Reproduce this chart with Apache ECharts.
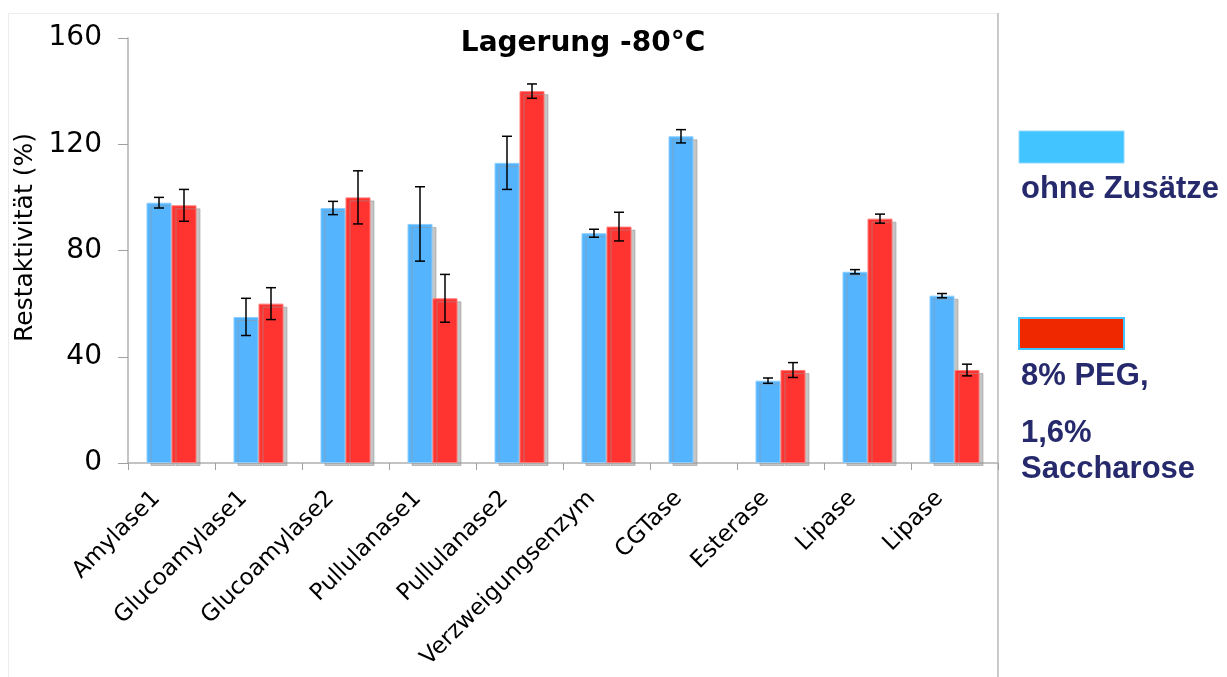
<!DOCTYPE html>
<html>
<head>
<meta charset="utf-8">
<script src="https://cdn.jsdelivr.net/npm/echarts@6/dist/echarts.min.js"></script>
<style>html,body{margin:0;padding:0;background:#fff;}#c{width:1227px;height:677px;}</style>
</head>
<body>
<div id="c"></div>
<script>
const categories = ['Amylase1','Glucoamylase1','Glucoamylase2','Pullulanase1','Pullulanase2','Verzweigungsenzym','CGTase','Esterase','Lipase','Lipase'];
const ohneZusaetze = [98, 55, 96, 90, 113, 86.5, 123, 31, 72, 63];
const ohneErr = [2, 7, 2.5, 14, 10, 1.5, 2.5, 1, 0.8, 0.8];
const pegSaccharose = [97, 60, 100, 62, 140, 89, null, 35, 92, 35];
const pegErr = [6, 6, 10, 9, 2.7, 5.4, null, 2.8, 1.7, 2.2];
const yTicks = [0, 40, 80, 120, 160];
const titleText = 'Lagerung -80°C';
const yName = 'Restaktivität (%)';
const legendNames = ['ohne Zusätze', '8% PEG,', '1,6%', 'Saccharose'];

const BAR_W = 25;

function errData(vals, errs) {
  const out = [];
  vals.forEach((v, i) => {
    if (v != null && errs[i] != null) out.push([i, v - errs[i], v + errs[i]]);
  });
  return out;
}

function errRender(offset) {
  return function (params, api) {
    const x = api.value(0);
    const lo = api.coord([x, api.value(1)]);
    const hi = api.coord([x, api.value(2)]);
    const cx = lo[0] + offset;
    const cap = 5;
    const st = { stroke: '#000', lineWidth: 1.5 };
    return {
      type: 'group',
      children: [
        { type: 'line', shape: { x1: cx, y1: hi[1], x2: cx, y2: lo[1] }, style: st },
        { type: 'line', shape: { x1: cx - cap, y1: hi[1], x2: cx + cap, y2: hi[1] }, style: st },
        { type: 'line', shape: { x1: cx - cap, y1: lo[1], x2: cx + cap, y2: lo[1] }, style: st }
      ]
    };
  };
}

const chart = echarts.init(document.getElementById('c'), null, { renderer: 'canvas' });
const barShadow = { shadowColor: 'rgba(150,150,150,0.55)', shadowOffsetX: 4, shadowOffsetY: 3, shadowBlur: 0 };
const legendFont = 'bold 31px "Liberation Sans"';

chart.setOption({
  animation: false,
  backgroundColor: '#fff',
  title: {
    text: titleText,
    left: 578, top: 25, textAlign: 'center',
    textStyle: { fontFamily: 'DejaVu Sans', fontWeight: 'bold', fontSize: 28, color: '#000' }
  },
  grid: { left: 128, right: 229, top: 38, bottom: 214, containLabel: false },
  xAxis: {
    type: 'category',
    data: categories,
    axisLine: { lineStyle: { color: '#b0b0b0', width: 1.5 } },
    axisTick: { show: true, alignWithLabel: false, length: 7, lineStyle: { color: '#a0a0a0' } },
    axisLabel: { rotate: 45, interval: 0, margin: 17, padding: [0, 21, 0, 0], fontFamily: 'DejaVu Sans', fontSize: 23, color: '#000' }
  },
  yAxis: {
    type: 'value',
    min: 0, max: 160, interval: 40,
    name: yName,
    nameLocation: 'middle',
    nameGap: 80,
    nameRotate: 90,
    nameTextStyle: { fontFamily: 'DejaVu Sans', fontSize: 25, color: '#000', padding: [0, 0, 0, 26] },
    axisLine: { show: true, lineStyle: { color: '#b0b0b0', width: 1.5 } },
    axisTick: { show: true, inside: false, length: 10, lineStyle: { color: '#a0a0a0' } },
    splitLine: { show: false },
    axisLabel: {
      margin: 26, fontFamily: 'DejaVu Sans', fontSize: 28, color: '#000',
      formatter: v => (yTicks.indexOf(v) >= 0 ? String(v) : '')
    }
  },
  series: [
    {
      name: legendNames[0], type: 'bar', data: ohneZusaetze, barWidth: BAR_W, barGap: '0%',
      itemStyle: Object.assign({ color: '#55b4fe', borderColor: '#8ccdff', borderWidth: 1 }, barShadow),
      z: 2
    },
    {
      name: legendNames[1], type: 'bar', data: pegSaccharose, barWidth: BAR_W, barGap: '0%',
      itemStyle: Object.assign({ color: '#ff3330', borderColor: '#ff7a78', borderWidth: 1 }, barShadow),
      z: 2
    },
    {
      type: 'custom', data: errData(ohneZusaetze, ohneErr), renderItem: errRender(-BAR_W / 2), z: 5,
      encode: { x: 0, y: [1, 2] }
    },
    {
      type: 'custom', data: errData(pegSaccharose, pegErr), renderItem: errRender(BAR_W / 2), z: 5,
      encode: { x: 0, y: [1, 2] }
    }
  ],
  graphic: [
    { type: 'rect', shape: { x: 8.5, y: 13.5, width: 989, height: 700 }, style: { fill: 'none', stroke: '#ececec', lineWidth: 1 }, silent: true, z: -1 },
    { type: 'line', shape: { x1: 998, y1: 13, x2: 998, y2: 677 }, style: { stroke: '#bdbdbd', lineWidth: 1.5 }, silent: true },
    { type: 'rect', shape: { x: 1019, y: 131, width: 105, height: 32 }, style: { fill: '#41c4ff', stroke: '#8fd9ff', lineWidth: 1 } },
    { type: 'rect', shape: { x: 1019, y: 318, width: 105, height: 31 }, style: { fill: '#f02800', stroke: '#41c4ff', lineWidth: 2 } },
    { type: 'text', left: 1021, top: 174, style: { text: legendNames[0], font: legendFont, fill: '#262a6c' } },
    { type: 'text', left: 1021, top: 361, style: { text: legendNames[1], font: legendFont, fill: '#262a6c' } },
    { type: 'text', left: 1021, top: 418, style: { text: legendNames[2], font: legendFont, fill: '#262a6c' } },
    { type: 'text', left: 1021, top: 454, style: { text: legendNames[3], font: legendFont, fill: '#262a6c' } }
  ]
});
</script>
</body>
</html>
